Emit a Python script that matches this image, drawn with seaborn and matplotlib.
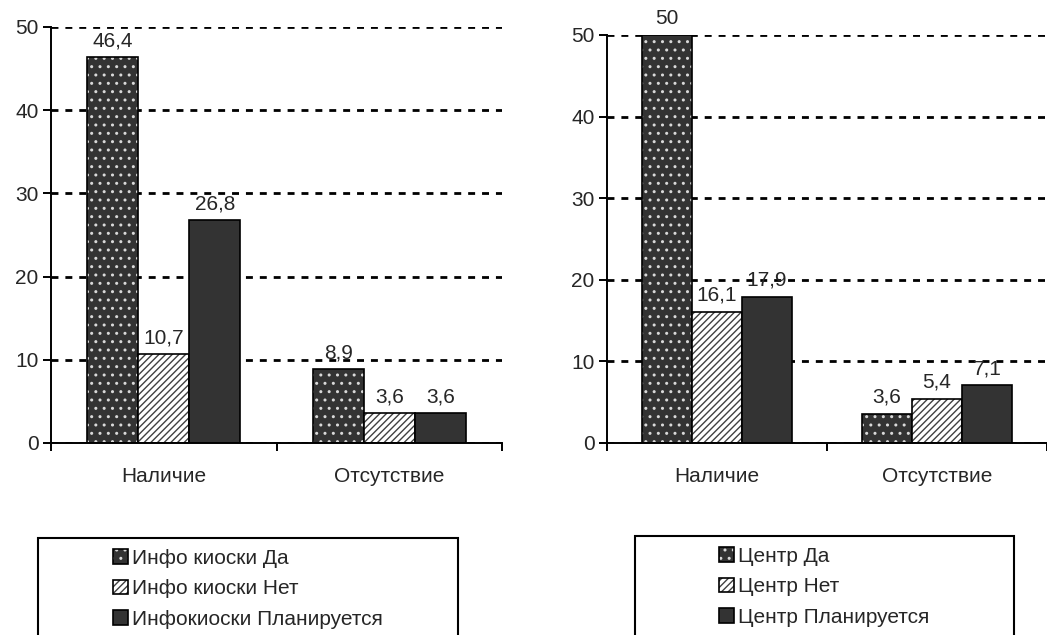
import matplotlib
matplotlib.use("Agg")
import matplotlib.pyplot as plt
from matplotlib.patches import Rectangle
import seaborn as sns
import pandas as pd

# данные
categories = ["Наличие", "Отсутствие"]
kiosk_series = ["Инфо киоски Да", "Инфо киоски Нет", "Инфокиоски Планируется"]
kiosk_yes = [46.4, 8.9]
kiosk_no = [10.7, 3.6]
kiosk_plan = [26.8, 3.6]
center_series = ["Центр Да", "Центр Нет", "Центр Планируется"]
center_yes = [50, 3.6]
center_no = [16.1, 5.4]
center_plan = [17.9, 7.1]
y_ticks = [0, 10, 20, 30, 40, 50]

sns.set_theme(style="white")
plt.rcParams['font.family'] = ['Liberation Sans', 'DejaVu Sans']
plt.rcParams['hatch.linewidth'] = 1.0

DARK = "#333333"
FS = 15


def make_df(names, values):
    rows = []
    for name, vals in zip(names, values):
        for c, v in zip(categories, vals):
            rows.append({"cat": c, "series": name, "val": v})
    return pd.DataFrame(rows)


def style_bars(ax):
    # 0 - точки, 1 - штриховка, 2 - сплошной
    for i, cont in enumerate(ax.containers):
        for p in cont:
            p.set_edgecolor("black")
            p.set_linewidth(1.2)
            if i == 0:
                p.set_facecolor(DARK)
                p.set_hatch("..")
                p._hatch_color = (0.85, 0.85, 0.85, 1)
            elif i == 1:
                p.set_facecolor("white")
                p.set_hatch("/////")
                p._hatch_color = (0.25, 0.25, 0.25, 1)
            else:
                p.set_facecolor(DARK)
        labels = [f"{v:g}".replace(".", ",") for v in cont.datavalues]
        ax.bar_label(cont, labels=labels, padding=5, fontsize=FS)


def draw_panel(ax, names, values):
    df = make_df(names, values)
    sns.barplot(data=df, x="cat", y="val", hue="series", hue_order=names,
                order=categories, palette=[DARK, "white", DARK], saturation=1,
                width=0.68, gap=0, legend=False, ax=ax)
    style_bars(ax)
    ax.set_xlim(-0.5, 1.5)
    ax.set_ylim(0, 50)
    ax.set_yticks(y_ticks)
    ax.set_xlabel("")
    ax.set_ylabel("")
    ax.yaxis.grid(True, linestyle=(0, (2.5, 2.5)), color="black", linewidth=2)
    ax.xaxis.grid(False)
    ax.set_axisbelow(True)
    for s in ["top", "right"]:
        ax.spines[s].set_visible(False)
    for s in ["left", "bottom"]:
        ax.spines[s].set_color("black")
        ax.spines[s].set_linewidth(1.4)
    ax.set_xticks([-0.5, 0.5, 1.5], minor=True)
    ax.tick_params(axis="x", which="major", length=0, pad=17, labelsize=FS)
    ax.tick_params(axis="x", which="minor", length=6, width=1.4, color="black", direction="out", bottom=True)
    ax.tick_params(axis="y", length=6, width=1.4, color="black", direction="out", left=True, labelsize=FS, pad=3)
    return ax


fig = plt.figure(figsize=(10.47, 6.35), dpi=100)
W, H = 1047, 635
ax1 = fig.add_axes([51 / W, (H - 443) / H, 451 / W, 416 / H])
ax2 = fig.add_axes([607 / W, (H - 443) / H, 440 / W, 408 / H])
draw_panel(ax1, kiosk_series, [kiosk_yes, kiosk_no, kiosk_plan])
draw_panel(ax2, center_series, [center_yes, center_no, center_plan])

for ax, names, (bx0, bx1, btop) in [(ax1, kiosk_series, (38, 458, 538)),
                                    (ax2, center_series, (635, 1014, 536))]:
    handles = [c.patches[0] for c in ax.containers]
    fig.legend(handles, names, loc="upper center",
               bbox_to_anchor=((bx0 + bx1) / 2 / W, (H - btop + 6) / H),
               frameon=False, fontsize=FS, handlelength=0.7, handleheight=0.7,
               handletextpad=0.2, labelspacing=0.55, borderpad=0.3)
    fig.add_artist(Rectangle((bx0 / W, -0.1), (bx1 - bx0) / W, 0.1 + (H - btop) / H,
                             transform=fig.transFigure, fill=False,
                             edgecolor="black", linewidth=1.5))

fig.savefig("out.png", dpi=100)
